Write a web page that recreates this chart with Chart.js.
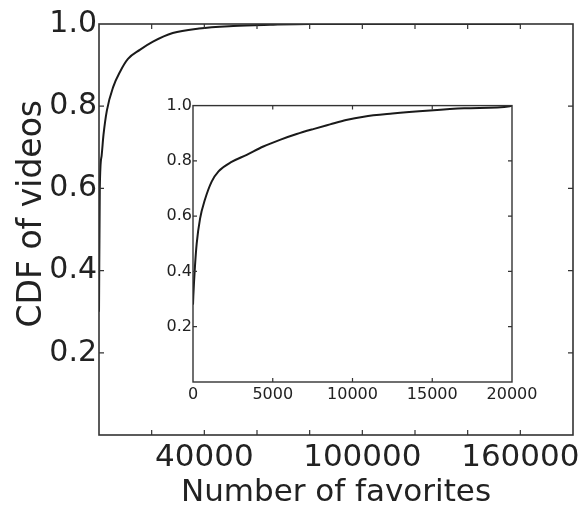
<!DOCTYPE html>
<html>
<head>
<meta charset="utf-8">
<script src="https://cdn.jsdelivr.net/npm/chart.js@4.4.1/dist/chart.umd.min.js"></script>
<style>
    body { margin: 0; background: #fff; }
    .main { position: relative; width: 585px; height: 508px; }
    #principal { position: absolute; left: 0; top: 0; }
    #recuadro { position: absolute; left: 150px; top: 95px; }
</style>
</head>
<body>
<div class="main">
    <canvas id="principal" width="585" height="508"></canvas>
    <canvas id="recuadro" width="400" height="320"></canvas>
</div>
<script>
// datos
const favoritos = [0, 300, 1000, 1700, 3000, 5400, 8000, 11000, 15500, 20500, 28000, 38000, 51000, 65000, 80000, 160000];
const cdfVideos = [0.30, 0.60, 0.68, 0.73, 0.79, 0.847, 0.884, 0.915, 0.937, 0.957, 0.978, 0.989, 0.995, 0.998, 1.0, 1.0];

const favoritosZoom = [0, 20, 125, 230, 440, 750, 1170, 1600, 2450, 3370, 4410, 5450, 6500, 7540, 8590, 9600, 10700, 12500, 14860, 17000, 19870, 20000];
const cdfZoom = [0.28, 0.31, 0.42, 0.50, 0.59, 0.66, 0.725, 0.762, 0.797, 0.822, 0.852, 0.876, 0.897, 0.915, 0.932, 0.948, 0.96, 0.971, 0.982, 0.99, 0.998, 1.0];

const etiquetasX = [40000, 100000, 160000];
const etiquetasXZoom = [0, 5000, 10000, 15000, 20000];

const fuente = "'DejaVu Sans', sans-serif";
const colorTexto = "#222";

// marco completo con marcas hacia adentro (estilo matplotlib)
const marcoEjes = {
    id: "marcoEjes",
    afterDraw(chart, args, opts) {
        const ctx = chart.ctx;
        const a = chart.chartArea;
        const x = chart.scales.x;
        const y = chart.scales.y;
        const len = opts.largo;
        ctx.save();
        ctx.strokeStyle = "#333";
        ctx.lineWidth = opts.grosor;
        ctx.strokeRect(a.left, a.top, a.right - a.left, a.bottom - a.top);
        ctx.lineWidth = 1.2;
        ctx.beginPath();
        x.ticks.forEach(function (t) {
            const px = x.getPixelForValue(t.value);
            if (px <= a.left + 1 || px >= a.right - 1) return;
            ctx.moveTo(px, a.bottom);
            ctx.lineTo(px, a.bottom - len);
            ctx.moveTo(px, a.top);
            ctx.lineTo(px, a.top + len);
        });
        y.ticks.forEach(function (t) {
            const py = y.getPixelForValue(t.value);
            if (py <= a.top + 1 || py >= a.bottom - 1) return;
            ctx.moveTo(a.left, py);
            ctx.lineTo(a.left + len, py);
            ctx.moveTo(a.right, py);
            ctx.lineTo(a.right - len, py);
        });
        ctx.stroke();
        ctx.restore();
    }
};

const ctx = document.getElementById("principal");

const myChart = new Chart(ctx, {
    type: "line",
    data: {
        datasets: [
            {
                data: favoritos.map(function (v, i) { return { x: v, y: cdfVideos[i] }; }),
                borderColor: "#1a1a1a",
                borderWidth: 2,
                pointRadius: 0,
                cubicInterpolationMode: "monotone",
                fill: false,
            },
        ],
    },
    options: {
        responsive: false,
        animation: false,
        layout: { padding: { left: 0, top: 24, right: 12, bottom: 0 } },
        plugins: {
            legend: { display: false },
            tooltip: { enabled: false },
            marcoEjes: { largo: 5, grosor: 1.6 },
        },
        scales: {
            x: {
                type: "linear",
                min: 0,
                max: 180000,
                grid: { display: false, drawTicks: false },
                border: { display: false },
                ticks: {
                    stepSize: 20000,
                    autoSkip: false,
                    maxRotation: 0,
                    padding: 4,
                    color: colorTexto,
                    font: { family: fuente, size: 31 },
                    callback: function (v) { return etiquetasX.includes(v) ? String(v) : ""; },
                },
                title: {
                    display: true,
                    text: "Number of favorites",
                    color: colorTexto,
                    font: { family: fuente, size: 31, lineHeight: 1 },
                    padding: { top: 0, bottom: 0 },
                },
                afterFit: function (scale) { scale.height = 73; },
            },
            y: {
                min: 0,
                max: 1,
                grid: { display: false, drawTicks: false },
                border: { display: false },
                ticks: {
                    stepSize: 0.2,
                    padding: 2,
                    color: colorTexto,
                    font: { family: fuente, size: 30 },
                    callback: function (v) { return v === 0 ? "" : v.toFixed(1); },
                },
                title: {
                    display: true,
                    text: "\u00a0\u00a0\u00a0CDF of videos",
                    color: colorTexto,
                    font: { family: fuente, size: 33, lineHeight: 1 },
                    padding: { top: 16, bottom: 0 },
                },
                afterFit: function (scale) { scale.width = 99; },
            },
        },
    },
    plugins: [marcoEjes],
});

const ctx1 = document.getElementById("recuadro");

const myChart1 = new Chart(ctx1, {
    type: "line",
    data: {
        datasets: [
            {
                data: favoritosZoom.map(function (v, i) { return { x: v, y: cdfZoom[i] }; }),
                borderColor: "#1a1a1a",
                borderWidth: 2,
                pointRadius: 0,
                cubicInterpolationMode: "monotone",
                fill: false,
            },
        ],
    },
    options: {
        responsive: false,
        animation: false,
        layout: { padding: { left: 0, top: 10, right: 38, bottom: 0 } },
        plugins: {
            legend: { display: false },
            tooltip: { enabled: false },
            marcoEjes: { largo: 4, grosor: 1.4 },
        },
        scales: {
            x: {
                type: "linear",
                min: 0,
                max: 20000,
                grid: { display: false, drawTicks: false },
                border: { display: false },
                ticks: {
                    stepSize: 5000,
                    autoSkip: false,
                    maxRotation: 0,
                    padding: 3,
                    color: colorTexto,
                    font: { family: fuente, size: 16 },
                    callback: function (v) { return etiquetasXZoom.includes(v) ? String(v) : ""; },
                },
                afterFit: function (scale) { scale.height = 33; },
            },
            y: {
                min: 0,
                max: 1,
                grid: { display: false, drawTicks: false },
                border: { display: false },
                ticks: {
                    stepSize: 0.2,
                    padding: 1,
                    color: colorTexto,
                    font: { family: fuente, size: 16 },
                    callback: function (v) { return v === 0 ? "" : v.toFixed(1); },
                },
                afterFit: function (scale) { scale.width = 43; },
            },
        },
    },
    plugins: [marcoEjes],
});
</script>
</body>
</html>
